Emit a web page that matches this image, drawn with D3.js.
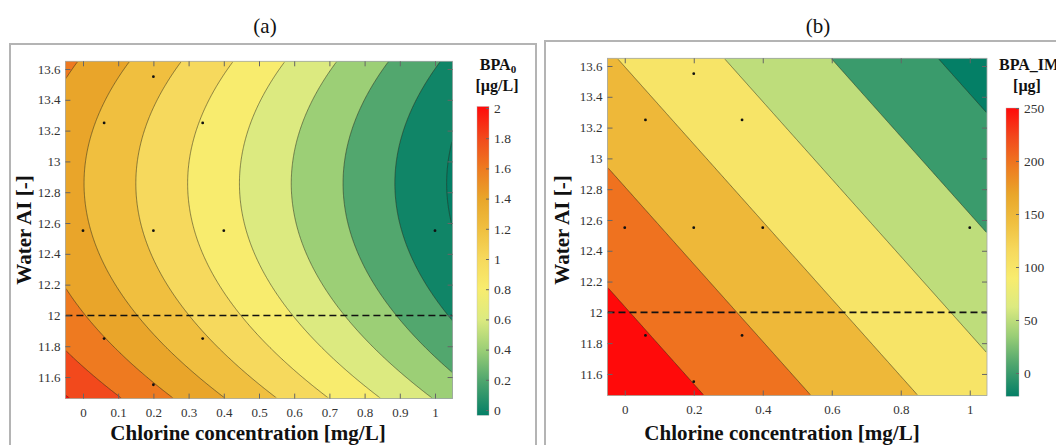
<!DOCTYPE html>
<html lang="en">
<head>
<meta charset="utf-8">
<title>BPA contour</title>
<script src="https://cdn.jsdelivr.net/npm/d3@7"></script>
<style>
body { margin: 0; background: #fff; }
text { font-family: "Liberation Serif", "Times New Roman", serif; }
</style>
</head>
<body>
<script>
// design points (chlorine [mg/L], water AI [-])
var pointsCl = [0.2, 0.06, 0.34, 0, 0.2, 0.4, 1, 0.06, 0.34, 0.2];
var pointsAI = [13.55, 13.25, 13.25, 12.55, 12.55, 12.55, 12.55, 11.85, 11.85, 11.55];

// response surfaces, coefficients
// BPA0   = c0 + c1*Cl + c2*(AI - c3)^2
var bpa0Coef = [1.404, -1.359, 0.28, 12.857];
// BPA_IM = c0 + c1*Cl + c2*(AI - c3)
var bpaImCoef = [217.1, -161.3, -64.2, 12.55];

var bpa0Levels = [0, 0.2, 0.4, 0.6, 0.8, 1, 1.2, 1.4, 1.6, 1.8, 2];
var bpaImLevels = [0, 50, 100, 150, 200, 250];

var clDomain = [-0.05, 1.05];
var aiDomain = [11.46, 13.65];
var clTicksA = [0, 0.1, 0.2, 0.3, 0.4, 0.5, 0.6, 0.7, 0.8, 0.9, 1];
var clTicksB = [0, 0.2, 0.4, 0.6, 0.8, 1];
var aiTicks = [11.6, 11.8, 12, 12.2, 12.4, 12.6, 12.8, 13, 13.2, 13.4, 13.6];
var cbTicksA = [0, 0.2, 0.4, 0.6, 0.8, 1, 1.2, 1.4, 1.6, 1.8, 2];
var cbTicksB = [0, 50, 100, 150, 200, 250];
var climA = [-0.035, 2.01];
var climB = [-22, 250];
var limitAI = 12;

// colormap (green - yellow - red)
var cmapT = [0, 0.11, 0.21, 0.31, 0.41, 0.51, 0.60, 0.70, 0.80, 0.90, 1];
var cmapC = ["#047f66", "#4ea56e", "#9ace76", "#dcea80", "#f8ec6e", "#f6d85c",
             "#f0c040", "#e9a62a", "#ee7a20", "#f2481c", "#ff0a0a"];
var cmap = d3.scaleLinear().domain(cmapT).range(cmapC).clamp(true);

var serif = '"Liberation Serif", "Times New Roman", serif';
var W = 1056, H = 445;
var svg = d3.select("body").append("svg").attr("width", W).attr("height", H);
var defs = svg.append("defs");

// panel frames
svg.append("rect").attr("x", 10).attr("y", 44).attr("width", 526).attr("height", 430)
    .attr("fill", "none").attr("stroke", "#b4b4b4").attr("stroke-width", 2);
svg.append("rect").attr("x", 545).attr("y", 41).attr("width", 530).attr("height", 430)
    .attr("fill", "none").attr("stroke", "#b4b4b4").attr("stroke-width", 2);

function bpa0(cl, ai) {
    var d = ai - bpa0Coef[3];
    return bpa0Coef[0] + bpa0Coef[1] * cl + bpa0Coef[2] * d * d;
}
function bpaIm(cl, ai) {
    return bpaImCoef[0] + bpaImCoef[1] * cl + bpaImCoef[2] * (ai - bpaImCoef[3]);
}

function drawPanel(p) {
    var x = d3.scaleLinear().domain(clDomain).range(p.xr);
    var y = d3.scaleLinear().domain(aiDomain).range(p.yr);
    var x0 = p.xr[0], x1 = p.xr[1], yt = p.yr[1], yb = p.yr[0];
    var g = svg.append("g");
    var color = function(v) { return cmap((v - p.clim[0]) / (p.clim[1] - p.clim[0])); };

    // sample the surface
    var nx = 330, ny = 260, values = new Array(nx * ny);
    for (var j = 0; j < ny; j++) {
        var ai = y.invert(yt + (j + 0.5) * (yb - yt) / ny);
        for (var i = 0; i < nx; i++) {
            var cl = x.invert(x0 + (i + 0.5) * (x1 - x0) / nx);
            values[j * nx + i] = p.f(cl, ai);
        }
    }
    var contours = d3.contours().size([nx, ny]).thresholds(p.levels)(values);
    var gx = d3.scaleLinear().domain([0, nx]).range([x0, x1]);
    var gy = d3.scaleLinear().domain([0, ny]).range([yt, yb]);
    var path = d3.geoPath(d3.geoTransform({
        point: function(a, b) { this.stream.point(gx(a), gy(b)); }
    }));

    g.append("rect").attr("x", x0).attr("y", yt).attr("width", x1 - x0).attr("height", yb - yt)
        .attr("fill", color(p.clim[0]));
    g.selectAll("path.band").data(contours).enter().append("path")
        .attr("class", "band")
        .attr("d", path)
        .attr("fill", function(d) { return color(d.value); });

    defs.append("clipPath").attr("id", p.id + "clip").append("rect")
        .attr("x", x0 + 1).attr("y", yt + 1).attr("width", x1 - x0 - 2).attr("height", yb - yt - 2);
    g.append("g").attr("clip-path", "url(#" + p.id + "clip)")
        .selectAll("path").data(contours).enter().append("path")
        .attr("d", path)
        .attr("fill", "none")
        .attr("stroke", "#2a2a1e")
        .attr("stroke-opacity", 0.75)
        .attr("stroke-width", 0.7);

    // AI limit
    g.append("line").attr("x1", x0).attr("x2", x1).attr("y1", y(limitAI)).attr("y2", y(limitAI))
        .attr("stroke", "#111").attr("stroke-width", 1.6).attr("stroke-dasharray", "7,4");

    // design points
    g.selectAll("circle").data(pointsCl).enter().append("circle")
        .attr("cx", function(d) { return x(d); })
        .attr("cy", function(d, i) { return y(pointsAI[i]); })
        .attr("r", 1.4).attr("fill", "#111");

    g.append("rect").attr("x", x0).attr("y", yt).attr("width", x1 - x0).attr("height", yb - yt)
        .attr("fill", "none").attr("stroke", "#a8a8a8").attr("stroke-width", 0.8);

    // axes, ticks pointing in
    var fmt = function(d) { return String(d); };
    var axes = [
        [d3.axisBottom(x).tickValues(p.xticks).tickFormat(fmt).tickSize(-5).tickPadding(9), "translate(0," + yb + ")"],
        [d3.axisTop(x).tickValues(p.xticks).tickFormat("").tickSize(-5), "translate(0," + yt + ")"],
        [d3.axisLeft(y).tickValues(aiTicks).tickFormat(fmt).tickSize(-5).tickPadding(5), "translate(" + x0 + ",0)"],
        [d3.axisRight(y).tickValues(aiTicks).tickFormat("").tickSize(-5), "translate(" + x1 + ",0)"]
    ];
    axes.forEach(function(a) {
        var ax = g.append("g").attr("transform", a[1]).call(a[0])
            .attr("font-family", serif).attr("font-size", 13);
        ax.select(".domain").remove();
        ax.selectAll("line").attr("stroke", "#666");
        ax.selectAll("text").attr("fill", "#333");
    });

    g.append("text").attr("x", p.xlabelX).attr("y", 440).attr("text-anchor", "middle")
        .attr("font-size", "21px").attr("font-weight", "bold").attr("fill", "#111")
        .text("Chlorine concentration [mg/L]");
    g.append("text").attr("transform", "translate(" + p.ylabelX + "," + 230 + ") rotate(-90)")
        .attr("text-anchor", "middle")
        .attr("font-size", "21px").attr("font-weight", "bold").attr("fill", "#111")
        .text("Water AI [-]");
    g.append("text").attr("x", p.titleX).attr("y", 33).attr("text-anchor", "middle")
        .attr("font-size", "21px").attr("fill", "#111").text(p.title);

    // colorbar
    var c = d3.scaleLinear().domain(p.cbDom).range(p.cbRange);
    var gid = p.id + "grad";
    var grad = defs.append("linearGradient").attr("id", gid)
        .attr("x1", 0).attr("y1", 1).attr("x2", 0).attr("y2", 0);
    cmapT.forEach(function(t, i) {
        grad.append("stop").attr("offset", t).attr("stop-color", cmapC[i]);
    });
    var cbTop = c(p.clim[1]), cbBot = c(p.clim[0]);
    g.append("rect").attr("x", p.cbX).attr("y", cbTop).attr("width", p.cbW).attr("height", cbBot - cbTop)
        .attr("fill", "url(#" + gid + ")").attr("stroke", "#bbb").attr("stroke-width", 0.4);
    var cax = g.append("g").attr("transform", "translate(" + (p.cbX + p.cbW) + ",0)")
        .call(d3.axisRight(c).tickValues(p.cbTicks).tickFormat(fmt).tickSize(-3).tickPadding(5))
        .attr("font-family", serif).attr("font-size", 13.5);
    cax.select(".domain").remove();
    cax.selectAll("line").attr("stroke", "#666");
    cax.selectAll("text").attr("fill", "#333");

    var t1 = g.append("text").attr("x", p.cbTitleX).attr("y", 70).attr("text-anchor", p.cbTitleAnchor)
        .attr("font-size", "16px").attr("font-weight", "bold").attr("fill", "#111");
    t1.append("tspan").text(p.cbName);
    if (p.cbSub) {
        t1.append("tspan").attr("font-size", "11px").attr("dy", 3).text(p.cbSub);
    }
    g.append("text").attr("x", p.cbUnitX).attr("y", 91).attr("text-anchor", "middle")
        .attr("font-size", "16px").attr("font-weight", "bold").attr("fill", "#111")
        .text(p.cbUnit);
}

drawPanel({
    id: "a", title: "(a)", titleX: 265, f: bpa0, levels: bpa0Levels,
    xr: [65.4, 452.6], yr: [398.6, 61.3], xticks: clTicksA,
    clim: climA, cbDom: [0, 2], cbRange: [410, 108], cbTicks: cbTicksA,
    cbX: 477, cbW: 12, cbName: "BPA", cbSub: "0", cbTitleX: 498, cbTitleAnchor: "middle",
    cbUnit: "[\u00b5g/L]", cbUnitX: 497,
    xlabelX: 248, ylabelX: 31
});
drawPanel({
    id: "b", title: "(b)", titleX: 818, f: bpaIm, levels: bpaImLevels,
    xr: [607.5, 987], yr: [395.5, 58.3], xticks: clTicksB,
    clim: climB, cbDom: [0, 250], cbRange: [373, 108], cbTicks: cbTicksB,
    cbX: 1006, cbW: 13, cbName: "BPA_IM", cbSub: null, cbTitleX: 999, cbTitleAnchor: "start",
    cbUnit: "[\u00b5g]", cbUnitX: 1027,
    xlabelX: 782, ylabelX: 569
});
</script>
</body>
</html>
